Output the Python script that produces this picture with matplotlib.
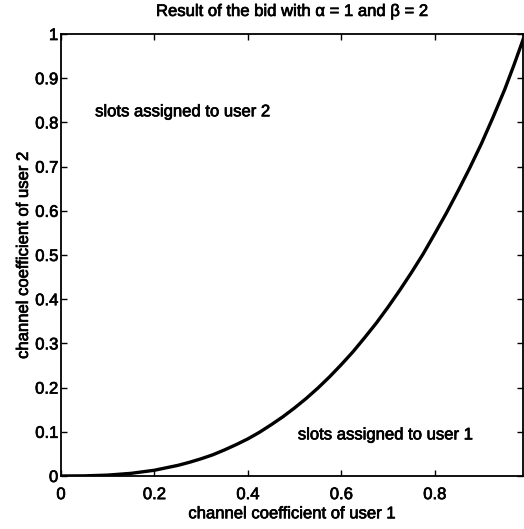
import matplotlib
matplotlib.use("Agg")
import matplotlib.pyplot as plt
import matplotlib.patheffects as pe

plt.rcParams['font.family'] = ['Liberation Sans', 'DejaVu Sans']

# Decision boundary of the bid: user-1 channel coefficient vs user-2 channel coefficient
h1 = [0.00, 0.05, 0.10, 0.15, 0.20, 0.25, 0.275, 0.30, 0.325, 0.35, 0.375,
      0.40, 0.425, 0.45, 0.475, 0.50, 0.525, 0.55, 0.575, 0.60, 0.625,
      0.65, 0.675, 0.70, 0.725, 0.75, 0.775, 0.80, 0.825, 0.85, 0.875,
      0.90, 0.925, 0.95, 0.97, 0.99]
h2 = [0.000, 0.0003, 0.002, 0.006, 0.013, 0.024, 0.031, 0.039, 0.048, 0.059, 0.071,
      0.084, 0.099, 0.116, 0.134, 0.154, 0.1755, 0.199, 0.2245, 0.252, 0.281,
      0.313, 0.346, 0.382, 0.420, 0.460, 0.502, 0.548, 0.595, 0.645, 0.697,
      0.752, 0.812, 0.875, 0.931, 0.990]

x_ticks = [0, 0.2, 0.4, 0.6, 0.8]
x_tick_labels = ["0", "0.2", "0.4", "0.6", "0.8"]
y_ticks = [0, 0.1, 0.2, 0.3, 0.4, 0.5, 0.6, 0.7, 0.8, 0.9, 1.0]
y_tick_labels = ["0", "0.1", "0.2", "0.3", "0.4", "0.5", "0.6", "0.7", "0.8", "0.9", "1"]

# slightly heavier strokes on the text
ink = [pe.withStroke(linewidth=0.5, foreground="black")]
fs = 12

fig = plt.figure(figsize=(5.24, 5.29), dpi=100)
ax = fig.add_axes([0.1164, 0.1002, 0.8826, 0.8355])

ax.plot(h1, h2, color="black", linewidth=2.4, solid_capstyle="round",
        solid_joinstyle="round")

ax.set_xlim(0, 0.99)
ax.set_ylim(0, 1)
ax.set_xticks(x_ticks)
ax.set_xticklabels(x_tick_labels)
ax.set_yticks(y_ticks)
ax.set_yticklabels(y_tick_labels)
ax.tick_params(direction="in", top=True, right=True, length=4, width=1,
               labelsize=fs)
ax.tick_params(axis="x", pad=8)
ax.tick_params(axis="y", pad=2)
for lbl in ax.get_xticklabels() + ax.get_yticklabels():
    lbl.set_path_effects(ink)
for s in ax.spines.values():
    s.set_linewidth(1.3)

ax.set_title("Result of the bid with α = 1 and β = 2", fontsize=fs, pad=13,
             path_effects=ink)
ax.set_xlabel("channel coefficient of user 1", fontsize=fs, labelpad=3,
              path_effects=ink)
ax.set_ylabel("channel coefficient of user 2", fontsize=fs, labelpad=3,
              path_effects=ink)

ax.text(0.073, 0.824, "slots assigned to user 2", fontsize=fs, va="center",
        ha="left", path_effects=ink)
ax.text(0.507, 0.093, "slots assigned to user 1", fontsize=fs, va="center",
        ha="left", path_effects=ink)

fig.savefig("out.png", dpi=100)
